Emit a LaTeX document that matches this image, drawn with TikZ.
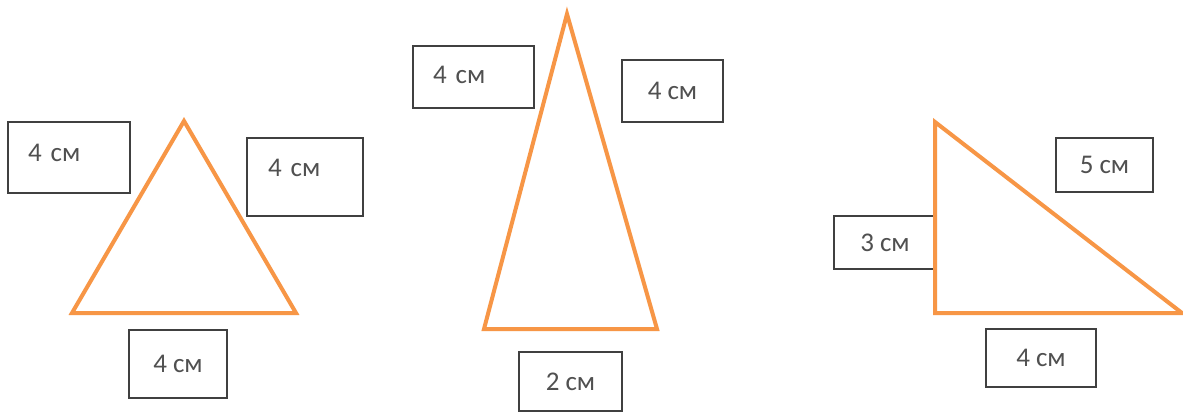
\documentclass[tikz,border=0pt]{standalone}
\usepackage{fontspec}
\setmainfont{Carlito}
\usepackage{tikz}
\usetikzlibrary{positioning}
\definecolor{sideorange}{HTML}{F79646}
\definecolor{boxgrey}{HTML}{404040}
\definecolor{textgrey}{HTML}{505050}

\begin{document}
\begin{tikzpicture}[
  x=1pt, y=-1pt,
  lenbox/.style={draw=boxgrey,line width=1.5pt,rectangle,inner sep=0pt,
    text=textgrey,font=\fontsize{27}{28}\selectfont},
  leftbox/.style={lenbox,align=left,text width=#1},
  tri/.style={draw=sideorange,line width=4pt}
]
\useasboundingbox[fill=white] (0,0) rectangle (1183,412);

% side lengths
\node[leftbox=82pt,text depth=9pt,minimum width=122pt,minimum height=71pt] (a1) at (69,157.5) {4 см};
\node[leftbox=74pt,text depth=18pt,minimum width=116pt,minimum height=78pt] (a2) at (305,177) {4 см};
\node[lenbox,minimum width=98pt,minimum height=68pt] (a3) at (178,364) {4 см};

\node[leftbox=81pt,text depth=4pt,minimum width=121pt,minimum height=62pt] (b1) at (473.5,77) {4 см};
\node[lenbox,minimum width=101pt,minimum height=62pt] (b2) at (672.5,91) {4 см};
\node[lenbox,minimum width=103pt,minimum height=59pt] (b3) at (570.5,381.5) {2 см};

\node[lenbox,minimum width=102pt,minimum height=53pt] (c1) at (885,242.5) {3 см};
\node[lenbox,minimum width=97pt,minimum height=54pt] (c2) at (1104.5,165) {5 см};
\node[lenbox,minimum width=110pt,minimum height=58pt] (c3) at (1041,358) {4 см};

% triangles
\coordinate (p1) at (184,121);
\coordinate (q1) at (72,313);
\coordinate (r1) at (296,313);
\coordinate (p2) at (567,14);
\coordinate (q2) at (484,329);
\coordinate (r2) at (657,329);
\coordinate (p3) at (935,122);
\coordinate (q3) at (935,313);
\coordinate (r3) at (1182,313);

\draw[tri] (p1) -- (q1) -- (r1) -- cycle;
\draw[tri] (p2) -- (q2) -- (r2) -- cycle;
\draw[tri] (p3) -- (q3) -- (r3) -- cycle;

\end{tikzpicture}
\end{document}
